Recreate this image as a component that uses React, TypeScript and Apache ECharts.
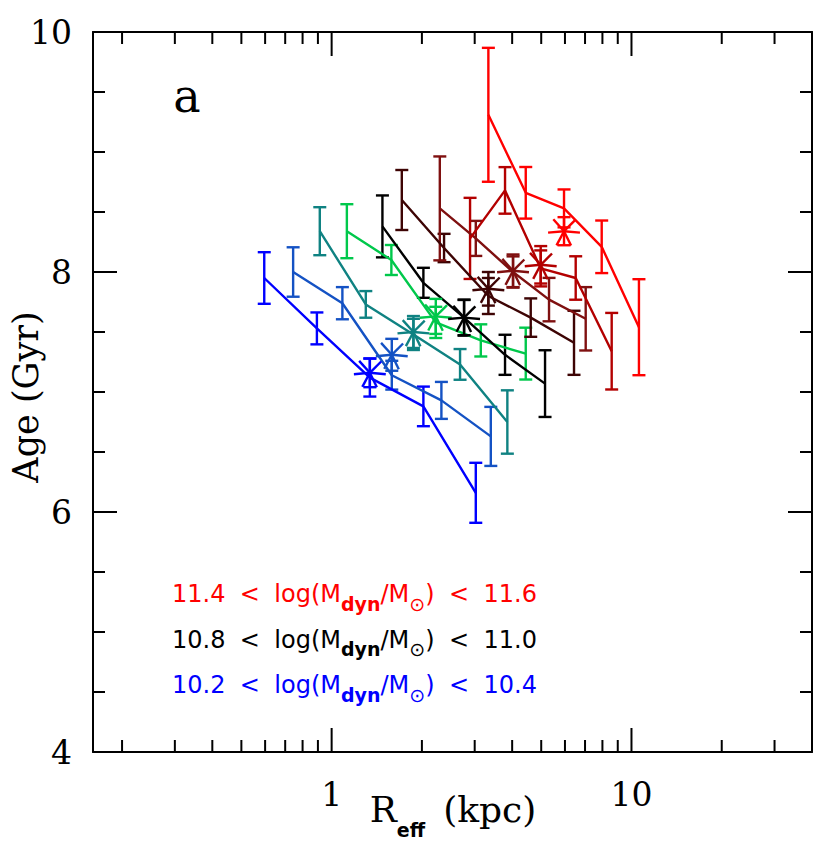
import React, { useEffect, useRef } from 'react';
import * as echarts from 'echarts';

// ---- Data ----
// Nine mass bins, lowest to highest; each: 5 binned points in Reff with errors
const BIN_COLORS = ['#0000ff', '#1452c4', '#0f8282', '#00c84b', '#000000', '#3d0404', '#7f1010', '#b30000', '#ff0000'];

const BIN1_R = [0.596, 0.893, 1.341, 2.023, 3.025];
const BIN1_AGE = [7.95, 7.53, 7.12, 6.88, 6.16];
const BIN1_ERR = [0.215, 0.133, 0.158, 0.165, 0.25];

const BIN2_R = [0.744, 1.086, 1.587, 2.323, 3.395];
const BIN2_AGE = [8.0, 7.74, 7.14, 6.93, 6.63];
const BIN2_ERR = [0.206, 0.134, 0.12, 0.154, 0.246];

const BIN3_R = [0.913, 1.3, 1.874, 2.681, 3.855];
const BIN3_AGE = [8.34, 7.73, 7.48, 7.23, 6.75];
const BIN3_ERR = [0.2, 0.111, 0.13, 0.128, 0.264];

const BIN4_R = [1.124, 1.582, 2.225, 3.144, 4.44];
const BIN4_AGE = [8.34, 8.1, 7.58, 7.43, 7.32];
const BIN4_ERR = [0.225, 0.125, 0.13, 0.134, 0.216];

const BIN5_R = [1.477, 2.023, 2.765, 3.787, 5.149];
const BIN5_AGE = [8.38, 7.91, 7.62, 7.31, 7.07];
const BIN5_ERR = [0.258, 0.125, 0.15, 0.167, 0.278];

const BIN6_R = [1.714, 2.371, 3.332, 4.613, 6.432];
const BIN6_AGE = [8.6, 8.2, 7.8, 7.62, 7.41];
const BIN6_ERR = [0.25, 0.118, 0.15, 0.16, 0.267];

const BIN7_R = [2.295, 3.025, 4.027, 5.309, 7.036];
const BIN7_AGE = [8.53, 8.28, 8.0, 7.77, 7.61];
const BIN7_ERR = [0.433, 0.146, 0.13, 0.181, 0.264];

const BIN8_R = [2.895, 3.787, 4.981, 6.516, 8.59];
const BIN8_AGE = [8.28, 8.68, 8.03, 7.95, 7.34];
const BIN8_ERR = [0.338, 0.194, 0.15, 0.181, 0.319];

const BIN9_R = [3.332, 4.44, 5.957, 7.956, 10.59];
const BIN9_AGE = [9.31, 8.66, 8.53, 8.21, 7.54];
const BIN9_ERR = [0.558, 0.215, 0.158, 0.219, 0.4];

// Asterisks (one per bin)
const STAR_R = [1.341, 1.587, 1.874, 2.225, 2.765, 3.332, 4.027, 4.981, 5.957];
const STAR_AGE = [7.16, 7.31, 7.5, 7.63, 7.62, 7.86, 8.01, 8.06, 8.34];
const STAR_ERR = [0.12, 0.133, 0.133, 0.146, 0.147, 0.14, 0.136, 0.156, 0.117];

// Axes
const X_MIN = 0.16;
const X_MAX = 40;
const Y_MIN = 4;
const Y_MAX = 10;
const Y_INTERVAL = 2;
const X_MAJOR_TICKS = [1, 10];
const X_MINOR_TICKS = [0.2, 0.3, 0.4, 0.5, 0.6, 0.7, 0.8, 0.9, 2, 3, 4, 5, 6, 7, 8, 9, 20, 30];
const X_TICK_LABELS = [1, 10];

// Legend text lines
const LEGEND_LO = ['11.4', '10.8', '10.2'];
const LEGEND_HI = ['11.6', '11.0', '10.4'];
const LEGEND_COLORS = ['#ff0000', '#000000', '#0000ff'];

const BINS = [
  [BIN1_R, BIN1_AGE, BIN1_ERR],
  [BIN2_R, BIN2_AGE, BIN2_ERR],
  [BIN3_R, BIN3_AGE, BIN3_ERR],
  [BIN4_R, BIN4_AGE, BIN4_ERR],
  [BIN5_R, BIN5_AGE, BIN5_ERR],
  [BIN6_R, BIN6_AGE, BIN6_ERR],
  [BIN7_R, BIN7_AGE, BIN7_ERR],
  [BIN8_R, BIN8_AGE, BIN8_ERR],
  [BIN9_R, BIN9_AGE, BIN9_ERR],
];

const STAR_ANGLES = [-5, 45, 132, 185, 242, 296];
const LW = 2.4;

function errBars(api: any, color: string, withStar: boolean) {
  const x = api.value(0);
  const y = api.value(1);
  const e = api.value(2);
  const top = api.coord([x, y + e]);
  const bot = api.coord([x, y - e]);
  const w = 6.5;
  const st = { stroke: color, lineWidth: LW };
  const children: any[] = [
    { type: 'line', shape: { x1: top[0], y1: top[1], x2: bot[0], y2: bot[1] }, style: st },
    { type: 'line', shape: { x1: top[0] - w, y1: top[1], x2: top[0] + w, y2: top[1] }, style: st },
    { type: 'line', shape: { x1: bot[0] - w, y1: bot[1], x2: bot[0] + w, y2: bot[1] }, style: st },
  ];
  if (withStar) {
    const c = api.coord([x, y]);
    const r = 16;
    STAR_ANGLES.forEach((a) => {
      const rad = (a * Math.PI) / 180;
      children.push({
        type: 'line',
        shape: { x1: c[0], y1: c[1], x2: c[0] + r * Math.cos(rad), y2: c[1] - r * Math.sin(rad) },
        style: st,
      });
    });
  }
  return { type: 'group', children };
}

export default function App() {
  const ref = useRef<HTMLDivElement>(null);

  useEffect(() => {
    if (!ref.current) return;
    const chart = echarts.init(ref.current, undefined, { renderer: 'svg' });

    const series: any[] = [];
    BINS.forEach(([rs, ages, errs], i) => {
      const color = BIN_COLORS[i];
      series.push({
        type: 'line',
        data: rs.map((r, k) => [r, ages[k]]),
        symbol: 'none',
        lineStyle: { color, width: LW },
        z: 3,
        silent: true,
      });
      series.push({
        type: 'custom',
        data: rs.map((r, k) => [r, ages[k], errs[k]]),
        encode: { x: 0, y: 1 },
        renderItem: (_p: any, api: any) => errBars(api, color, false),
        z: 3,
        silent: true,
      });
      series.push({
        type: 'custom',
        data: [[STAR_R[i], STAR_AGE[i], STAR_ERR[i]]],
        encode: { x: 0, y: 1 },
        renderItem: (_p: any, api: any) => errBars(api, color, true),
        z: 4,
        silent: true,
      });
    });

    // x-axis ticks (log axis) on bottom and top frame
    series.push({
      type: 'custom',
      data: [...X_MINOR_TICKS.map((v) => [v, Y_MIN, 0]), ...X_MAJOR_TICKS.map((v) => [v, Y_MIN, 1])],
      encode: { x: 0, y: 1 },
      renderItem: (_p: any, api: any) => {
        const v = api.value(0);
        const len = api.value(2) === 1 ? 24 : 12;
        const b = api.coord([v, Y_MIN]);
        const t = api.coord([v, Y_MAX]);
        const st = { stroke: '#000', lineWidth: 2 };
        return {
          type: 'group',
          children: [
            { type: 'line', shape: { x1: b[0], y1: b[1], x2: b[0], y2: b[1] - len }, style: st },
            { type: 'line', shape: { x1: t[0], y1: t[1], x2: t[0], y2: t[1] + len }, style: st },
          ],
        };
      },
      z: 5,
      silent: true,
    });

    const yAxisBase = {
      type: 'value',
      min: Y_MIN,
      max: Y_MAX,
      interval: Y_INTERVAL,
      axisLine: { show: true, onZero: false, lineStyle: { color: '#000', width: 2 } },
      axisTick: { show: true, inside: true, length: 24, lineStyle: { color: '#000', width: 2 } },
      minorTick: { show: true, splitNumber: 4, length: 12, lineStyle: { color: '#000', width: 2 } },
      splitLine: { show: false },
      minorSplitLine: { show: false },
    };

    const xAxisBase = {
      type: 'log',
      logBase: 10,
      min: X_MIN,
      max: X_MAX,
      axisLine: { show: true, onZero: false, lineStyle: { color: '#000', width: 2 } },
      axisTick: { show: false },
      splitLine: { show: false },
    };

    const GAP = '\u2002\u200a';
    const legendGraphics = LEGEND_LO.map((lo, i) => ({
      type: 'text',
      x: 172,
      y: 582 + i * 45.6,
      style: {
        text: `{m|${lo}${GAP}<${GAP}log(M}{s|dyn}{m|/M}{o|\u2299}{m|)${GAP}<${GAP}${LEGEND_HI[i]}}`,
        fill: LEGEND_COLORS[i],
        align: 'left',
        verticalAlign: 'top',
        rich: {
          m: { font: '24px "DejaVu Sans"', padding: [0, 0, 7, 0], verticalAlign: 'bottom', fill: LEGEND_COLORS[i] },
          s: { font: 'bold 19px "DejaVu Sans"', verticalAlign: 'bottom', fill: LEGEND_COLORS[i] },
          o: { font: '19px "DejaVu Sans"', verticalAlign: 'bottom', fill: LEGEND_COLORS[i] },
        },
      },
    }));

    chart.setOption({
      animation: false,
      backgroundColor: '#ffffff',
      grid: { left: 93, top: 32, width: 719, height: 720, containLabel: false },
      xAxis: [
        {
          ...xAxisBase,
          position: 'bottom',
          axisLabel: {
            show: true,
            margin: 26,
            fontFamily: 'DejaVu Serif',
            fontSize: 33,
            color: '#000',
            formatter: (v: number) => {
              const hit = X_TICK_LABELS.find((t) => Math.abs(t - v) < 1e-6 * t);
              return hit !== undefined ? String(hit) : '';
            },
          },
        },
        { ...xAxisBase, position: 'top', axisLabel: { show: false } },
      ],
      yAxis: [
        {
          ...yAxisBase,
          position: 'left',
          axisLabel: { show: true, margin: 21, fontFamily: 'DejaVu Serif', fontSize: 33, color: '#000' },
        },
        { ...yAxisBase, position: 'right', axisLabel: { show: false } },
      ],
      graphic: [
        {
          type: 'text',
          x: 187,
          y: 96,
          style: { text: 'a', font: '46px "DejaVu Serif"', fill: '#000', align: 'center', verticalAlign: 'middle' },
        },
        {
          type: 'text',
          x: 26,
          y: 397,
          rotation: Math.PI / 2,
          style: { text: 'Age (Gyr)', font: '35px "DejaVu Serif"', fill: '#000', align: 'center', verticalAlign: 'middle' },
        },
        {
          type: 'text',
          x: 453,
          y: 791,
          style: {
            text: '{r|R}{s|eff}{r|\u2002(kpc)}',
            fill: '#000',
            align: 'center',
            verticalAlign: 'top',
            rich: {
              r: { font: '36px "DejaVu Serif"', padding: [0, 0, 12, 0], verticalAlign: 'bottom', fill: '#000' },
              s: { font: 'bold 19px "DejaVu Sans"', verticalAlign: 'bottom', fill: '#000' },
            },
          },
        },
        ...legendGraphics,
      ],
      series,
    });

    return () => chart.dispose();
  }, []);

  return <div ref={ref} style={{ position: 'fixed', left: 0, top: 0, width: 830, height: 845, background: '#fff' }} />;
}
